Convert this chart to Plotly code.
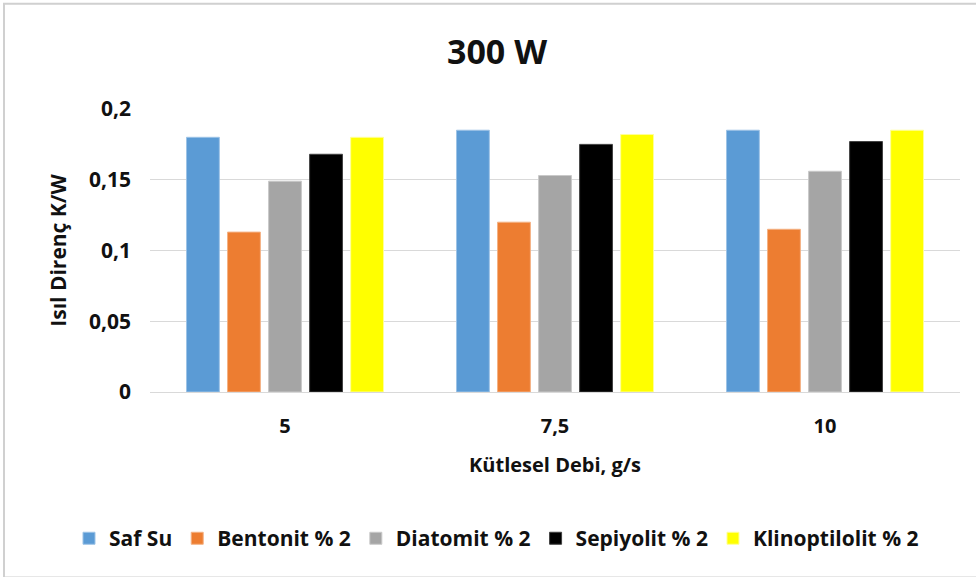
import plotly.graph_objects as go

# Thermal resistance at 300 W for each fluid, per mass flow rate
categories = ["5", "7,5", "10"]
series_names = ["Saf Su", "Bentonit % 2", "Diatomit % 2", "Sepiyolit % 2", "Klinoptilolit % 2"]
saf_su = [0.180, 0.185, 0.185]
bentonit = [0.113, 0.120, 0.115]
diatomit = [0.149, 0.153, 0.156]
sepiyolit = [0.168, 0.175, 0.177]
klinoptilolit = [0.180, 0.182, 0.185]
y_ticks = [0, 0.05, 0.1, 0.15, 0.2]
y_tick_labels = ["0", "0,05", "0,1", "0,15", "0,2"]

colors = ["#5B9BD5", "#ED7D31", "#A5A5A5", "#000000", "#FFFF00"]
outlines = ["#9DC3E6", "#F4B183", "#C9C9C9", "#404040", "#FFFF99"]
values = [saf_su, bentonit, diatomit, sepiyolit, klinoptilolit]

FONT = "Open Sans"
TXT = "#111111"

PLOT_W, PLOT_H = 810, 282.4

fig = go.Figure()
for name, vals, c, oc in zip(series_names, values, colors, outlines):
    fig.add_trace(go.Bar(
        name=name, x=categories, y=vals,
        marker=dict(color=c, line=dict(color=oc, width=1)),
    ))

fig.update_layout(
    width=976, height=577,
    margin=dict(l=150, r=16, t=109, b=185, autoexpand=False),
    paper_bgcolor="white", plot_bgcolor="white",
    barmode="group", bargap=0.24, bargroupgap=0.2,
    font=dict(family=FONT, color=TXT),
    title=dict(text="<b>300 W</b>", x=497 / 976, xanchor="center",
               y=1 - 52 / 577, yanchor="middle",
               font=dict(family=FONT, size=34, color=TXT)),
    showlegend=True,
    # legend sits below the plot area, starting left of it, on a single row
    legend=dict(orientation="h", xref="paper", yref="paper",
                x=-81 / PLOT_W, xanchor="left",
                y=-(538 - 391.7) / PLOT_H, yanchor="middle",
                font=dict(family=FONT, size=21, color=TXT, weight="bold"),
                itemwidth=30, tracegroupgap=0, traceorder="normal"),
)

fig.update_yaxes(
    range=[0, 0.2], tickvals=y_ticks, ticktext=y_tick_labels,
    showgrid=True, gridcolor="#D9D9D9", gridwidth=1,
    zeroline=False, showline=False, ticks="", ticklen=0,
    ticklabelstandoff=18,
    tickfont=dict(family=FONT, size=21, color=TXT, weight="bold"),
    title=dict(text="<b>Isıl Direnç K/W</b>", standoff=16,
               font=dict(family=FONT, size=21, color=TXT)),
)
fig.update_xaxes(
    showgrid=False, showline=True, linecolor="#D9D9D9", linewidth=1,
    ticks="", ticklabelstandoff=16,
    tickfont=dict(family=FONT, size=20, color=TXT, weight="bold"),
    title=dict(text="<b>Kütlesel Debi, g/s</b>", standoff=19,
               font=dict(family=FONT, size=20, color=TXT)),
)

# Chart frame border
fig.add_shape(type="rect", xref="paper", yref="paper",
              x0=-146 / PLOT_W, x1=1 + 20 / PLOT_W, y0=-185 / PLOT_H, y1=1 + 105 / PLOT_H,
              line=dict(color="#D0D0D0", width=2), fillcolor="rgba(0,0,0,0)", layer="below")

fig.write_html("out.html")
